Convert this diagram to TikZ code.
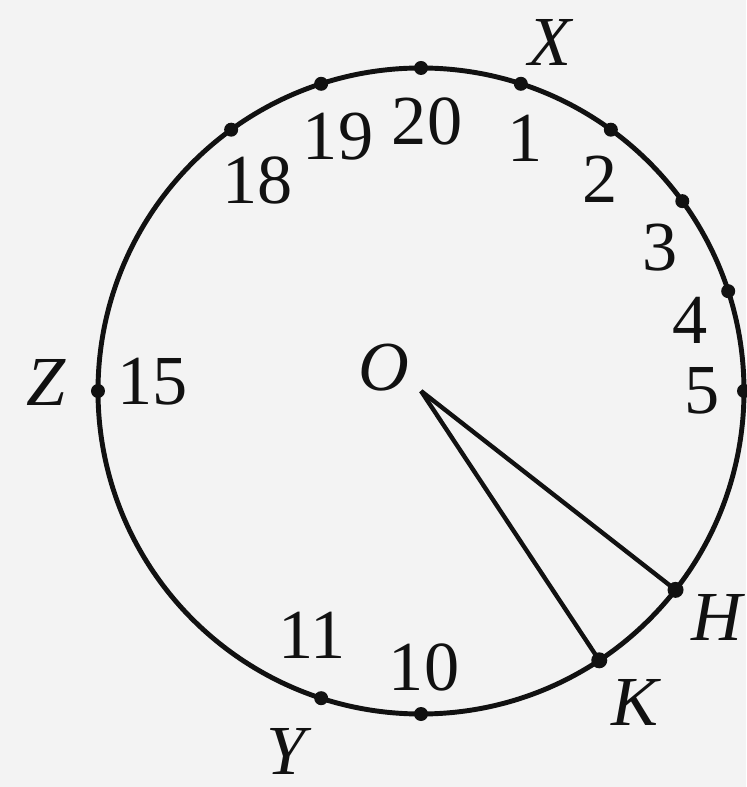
\documentclass[tikz,border=0pt]{standalone}
\usepackage{fontspec}
\setmainfont{Liberation Serif}
\usetikzlibrary{arrows.meta,positioning,backgrounds}
\definecolor{clkPaper}{HTML}{F3F3F3}
\definecolor{clkInk}{HTML}{111111}
\tikzset{
    >=Latex,
    rim/.style={draw=clkInk, line width=2.8pt},
    spoke/.style={draw=clkInk, line width=2.5pt},
    dot/.style={fill=clkInk},
    num/.style={font=\fontsize{40}{46}\selectfont, text=clkInk, inner sep=0pt},
    tag/.style={font=\fontsize{40}{46}\selectfont\itshape, text=clkInk, inner sep=0pt}
}

\begin{document}
\begin{tikzpicture}
\useasboundingbox[fill=clkPaper] (-8.42,-7.92) rectangle (6.5,7.82);
\coordinate (O) at (0,0);
\draw[rim] (O) circle (6.46);
% marks on the dial
\foreach \k in {1,2,3,4,5,10,11,15,18,19,20}
    \coordinate (p\k) at ({90-18*\k}:6.46);
\foreach \k in {1,2,3,4,5,10,11,15,18,19,20}
    \fill[dot] (p\k) circle (0.14);
\coordinate (H) at (-38:6.46);
\coordinate (K) at (-56.5:6.46);
\fill[dot] (H) circle (0.16); \fill[dot] (K) circle (0.16);
\draw[spoke] (O)--(H); \draw[spoke] (O)--(K);
% labels
\node[num] (n1) at (2.08,5.06) {1};
\node[num] (n2) at (3.58,4.24) {2};
\node[num] (n3) at (4.78,2.86) {3};
\node[num] (n4) at (5.38,1.42) {4};
\node[num] (n5) at (5.62,0) {5};
\node[num] (n10) at (0.06,-5.52) {10};
\node[num] (n11) at (-2.18,-4.88) {11};
\node[num] (n15) at (-5.36,0.18) {15};
\node[num] (n18) at (-3.26,4.22) {18};
\node[num] (n19) at (-1.66,5.08) {19};
\node[num] (n20) at (0.12,5.40) {20};
\node[tag] (lO) at (-0.74,0.46) {O};
\node[tag] (lX) at (2.58,6.98) {X};
\node[tag] (lY) at (-2.70,-7.2) {Y};
\node[tag] (lZ) at (-7.50,0.18) {Z};
\node[tag] (lH) at (5.92,-4.52) {H};
\node[tag] (lK) at (4.28,-6.22) {K};
\end{tikzpicture}
\end{document}
